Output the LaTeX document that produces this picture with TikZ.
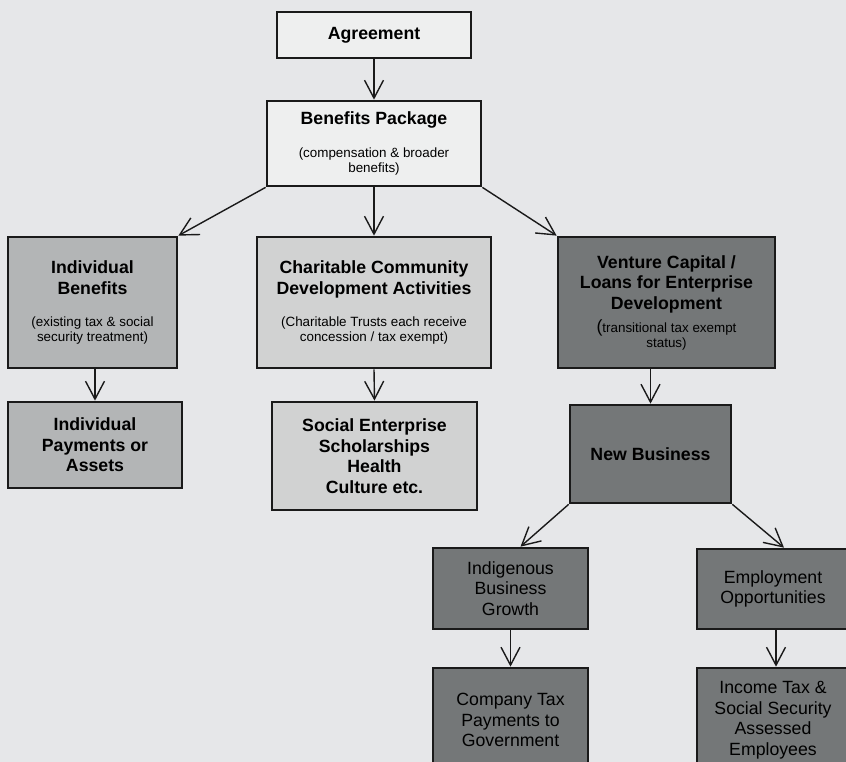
\documentclass[tikz,border=0pt]{standalone}
\usepackage{fontspec}
\setmainfont{Liberation Sans}
\usetikzlibrary{arrows.meta}
\definecolor{bgc}{HTML}{E6E7E9}
\definecolor{lightc}{HTML}{EEEFEF}
\definecolor{midc}{HTML}{B3B5B6}
\definecolor{charc}{HTML}{D1D2D2}
\definecolor{darkc}{HTML}{747778}
\definecolor{linec}{HTML}{1A1A1A}
\newcommand{\ttl}{\fontsize{17.7}{20.5}\selectfont\bfseries\spaceskip=0.278em\relax}
\newcommand{\reg}{\fontsize{17.7}{20.5}\selectfont\mdseries\spaceskip=0.278em\relax}
\newcommand{\sml}{\fontsize{13.4}{15}\selectfont\mdseries\spaceskip=0.278em\relax}
\tikzset{
  boxnode/.style={draw=linec, line width=2.7pt, rectangle, inner sep=0pt, align=center, text=black, font=\ttl},
  regnode/.style={boxnode, font=\reg},
  conn/.style={draw=linec, line width=1.4pt, -{Straight Barb[length=18pt,width=19pt,line width=1.4pt]}},
}
\begin{document}
\begin{tikzpicture}[x=1pt,y=-1pt]
\useasboundingbox (0,0) rectangle (846,762);
\fill[bgc] (0,0) rectangle (846,762);
% boxes
\node[boxnode, fill=lightc, minimum width=194pt, minimum height=46pt, text width=184pt] (ag) at (374,35) {\ttl Agreement\par};
\node[boxnode, fill=lightc, minimum width=214pt, minimum height=85pt, text width=204pt] (bp) at (374,143.5)
  {{\ttl Benefits Package\par}\vspace{18pt}{\sml (compensation \& broader\\benefits)\par}};
\node[boxnode, fill=midc, minimum width=169pt, minimum height=131pt, text width=160pt] (ib) at (92.5,302.5)
  {{\ttl Individual\\Benefits\par}\vspace{17pt}{\sml (existing tax \& social\\security treatment)\par}};
\node[boxnode, fill=charc, minimum width=234pt, minimum height=131pt, text width=226pt] (cc) at (374,302.5)
  {{\ttl Charitable Community\\Development Activities\par}\vspace{17pt}{\sml (Charitable Trusts each receive\\concession / tax exempt)\par}};
\node[boxnode, fill=darkc, minimum width=217pt, minimum height=131pt, text width=208pt] (vc) at (666.5,302.5)
  {{\ttl Venture Capital /\\Loans for Enterprise\\Development\par}\vspace{5.5pt}{\sml {\fontsize{17.7}{15}\selectfont(}transitional tax exempt\\status)\par}};
\node[boxnode, fill=midc, minimum width=174pt, minimum height=86pt, text width=164pt] (ip) at (95,445)
  {\ttl Individual\\Payments or\\Assets\par};
\node[boxnode, fill=charc, minimum width=205pt, minimum height=108pt, text width=196pt] (se) at (374.5,456)
  {\ttl Social Enterprise\\Scholarships\\Health\\Culture etc.\par};
\node[boxnode, fill=darkc, minimum width=161pt, minimum height=98pt, text width=152pt] (nb) at (650.5,454)
  {\ttl New Business\par};
\node[regnode, fill=darkc, minimum width=155pt, minimum height=81pt, text width=146pt] (ig) at (510.5,588.5)
  {\reg Indigenous\\Business\\Growth\par};
\node[regnode, fill=darkc, minimum width=152pt, minimum height=80pt, text width=144pt] (em) at (773,589)
  {\reg Employment\\Opportunities\par};
\node[regnode, fill=darkc, minimum width=155pt, minimum height=104pt, text width=146pt] (ct) at (510.5,720)
  {\reg Company Tax\\Payments to\\Government\par};
\node[regnode, fill=darkc, minimum width=152pt, minimum height=104pt, text width=144pt] (it) at (773,720)
  {\reg Income Tax \&\\Social Security\\Assessed\\Employees\par};
% connectors
\draw[conn] (ag.south) -- (bp.north);
\draw[conn] (bp.south) -- (cc.north);
\draw[conn] (bp.south west) -- (ib.north east);
\draw[conn] (bp.south east) -- (vc.north west);
\draw[conn] (ip.north |- ib.south) -- (ip.north);
\draw[conn] (cc.south) -- (se.north);
\draw[conn] (nb.north |- vc.south) -- (nb.north);
\coordinate (igin) at ([xshift=10pt]ig.north);
\coordinate (emin) at ([xshift=11pt]em.north);
\draw[conn] (nb.south west) -- (igin);
\draw[conn] (nb.south east) -- (emin);
\draw[conn] (ig.south) -- (ct.north);
\draw[conn] ([xshift=3pt]em.south) -- ([xshift=3pt]it.north);
\end{tikzpicture}
\end{document}
